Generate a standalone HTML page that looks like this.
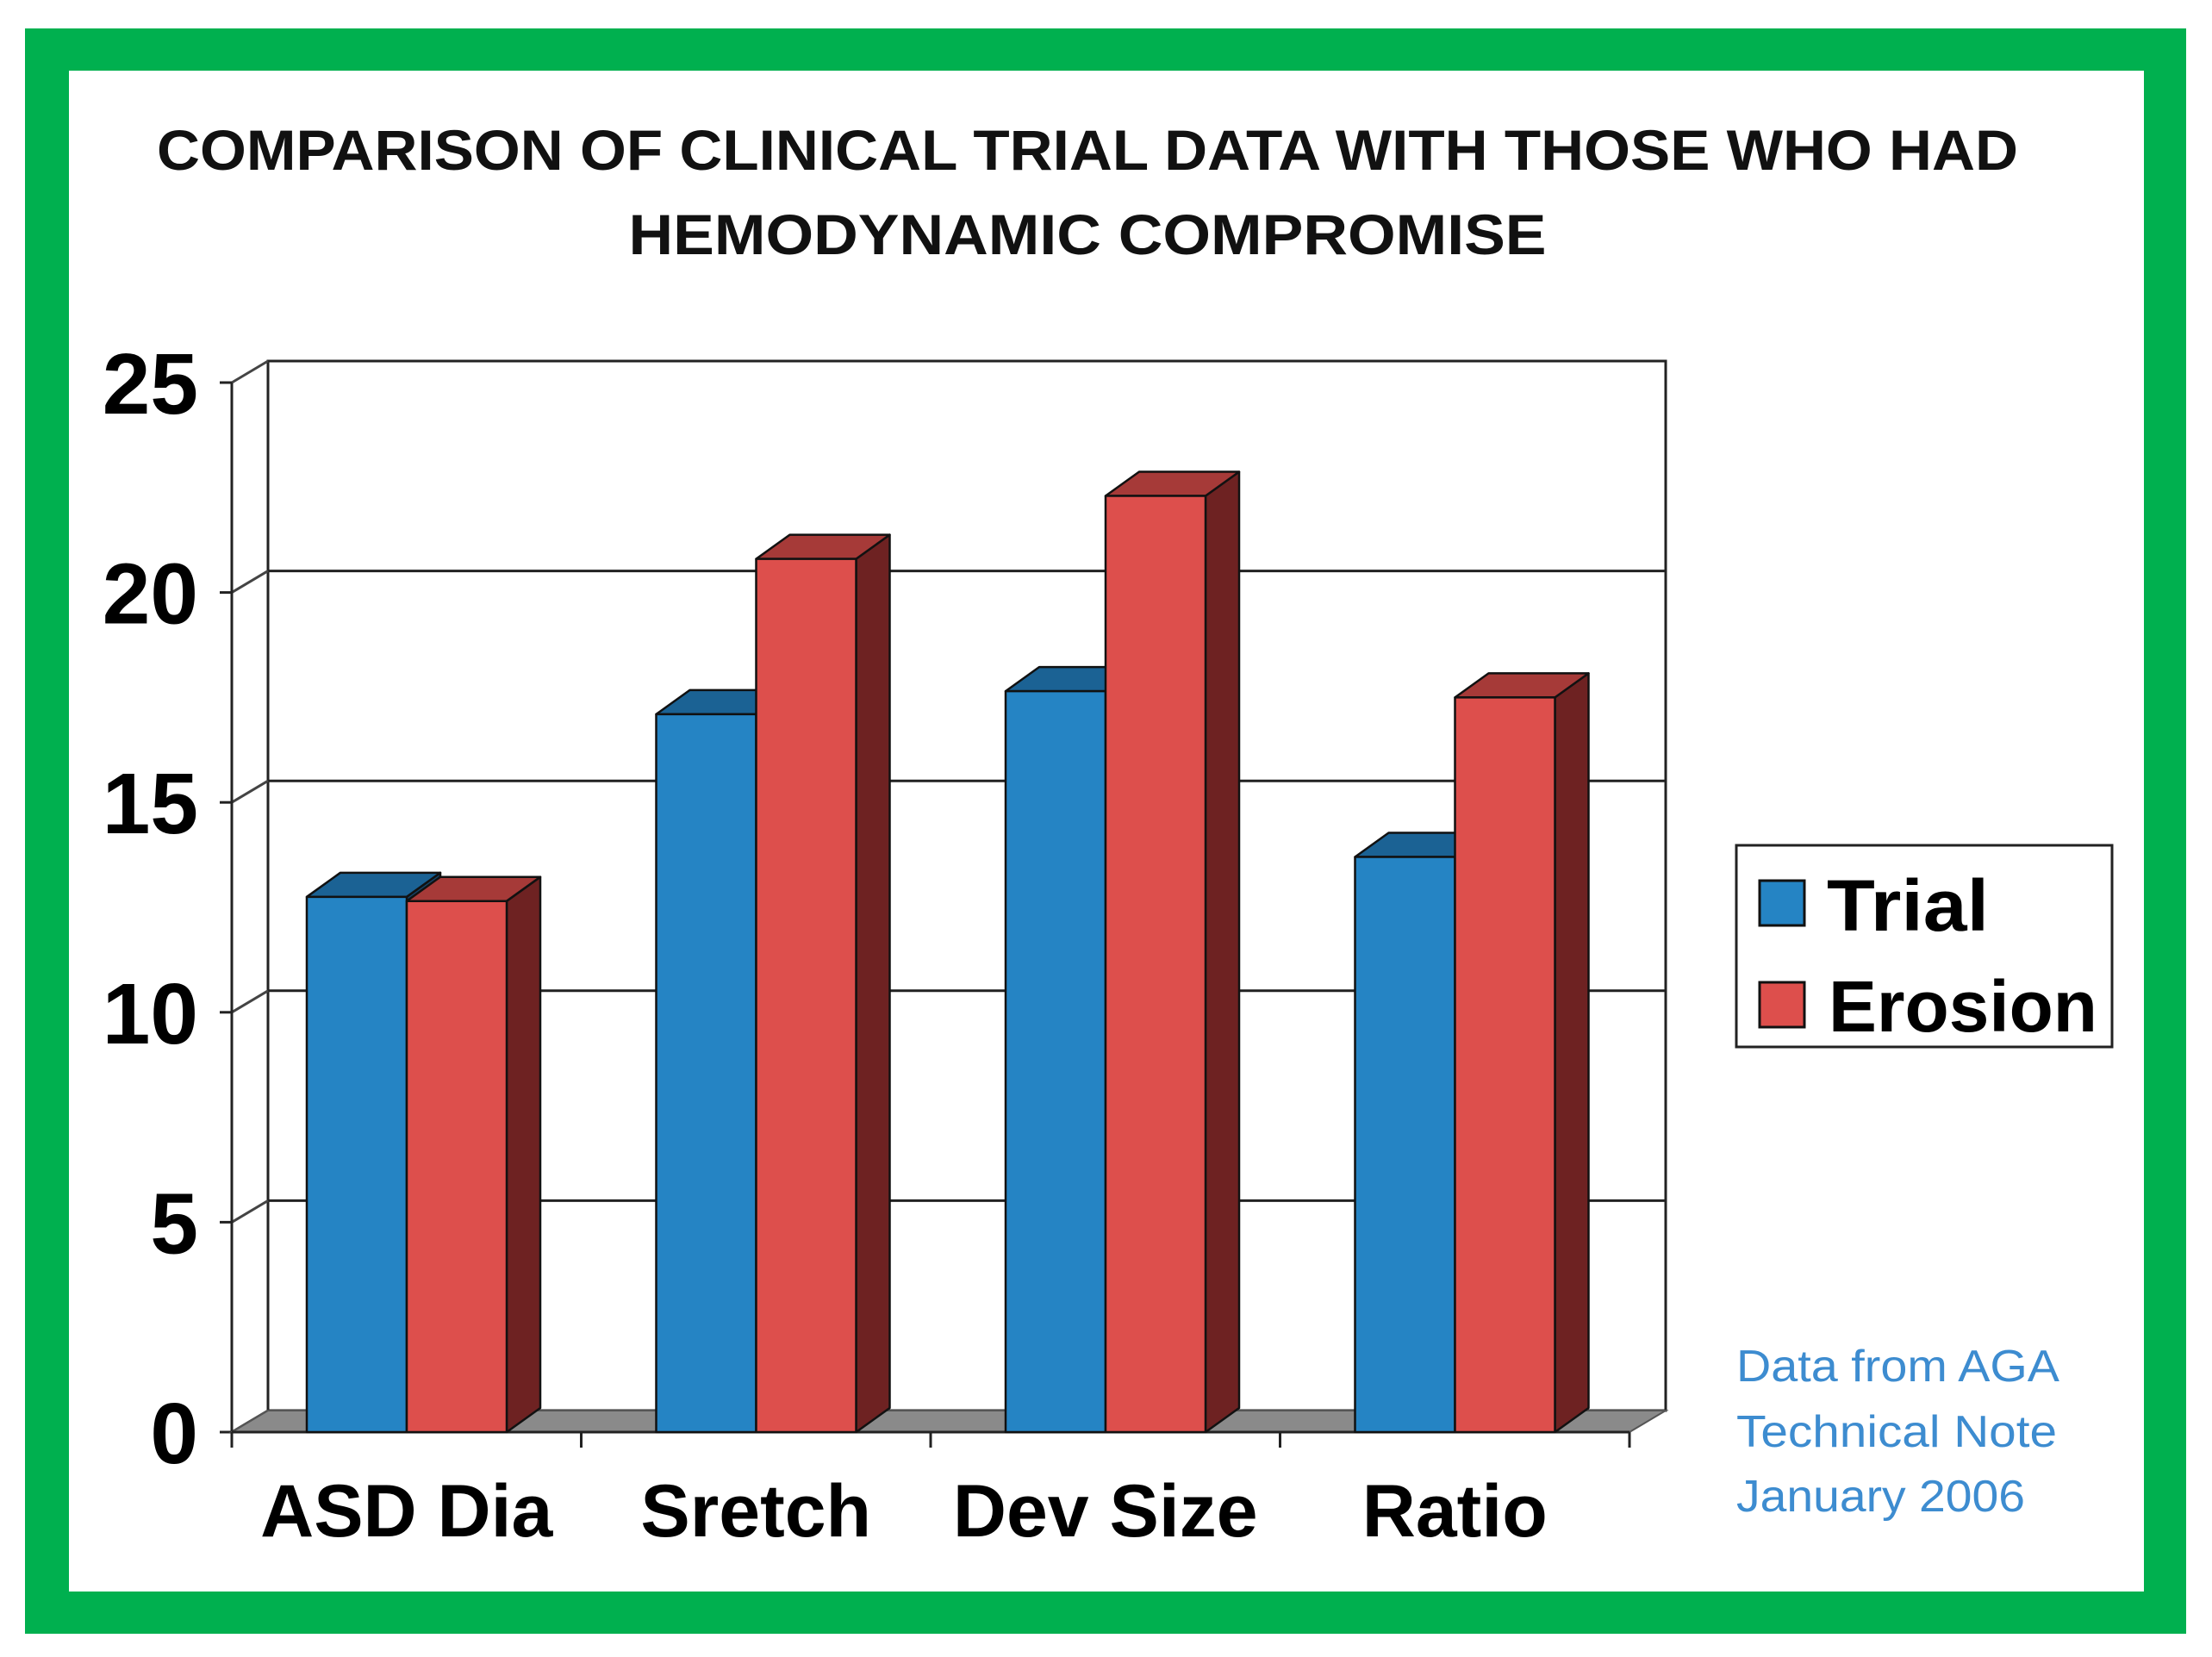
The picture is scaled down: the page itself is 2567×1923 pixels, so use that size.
<!DOCTYPE html>
<html><head><meta charset="utf-8"><style>
html,body{margin:0;padding:0;background:#fff;}
svg{display:block;}
</style></head><body>
<svg id="chart" width="2567" height="1923" viewBox="0 0 2567 1923" xmlns="http://www.w3.org/2000/svg" font-family="'Liberation Sans', sans-serif">
<rect x="29" y="33" width="2508" height="1863" fill="#00b04f"/>
<rect x="80" y="82" width="2408" height="1765" fill="#fff"/>
<text x="1262" y="197" text-anchor="middle" font-size="66" font-weight="bold" fill="#111" textLength="2160" lengthAdjust="spacingAndGlyphs">COMPARISON OF CLINICAL TRIAL DATA WITH THOSE WHO HAD</text>
<text x="1262" y="295" text-anchor="middle" font-size="66" font-weight="bold" fill="#111" textLength="1065" lengthAdjust="spacingAndGlyphs">HEMODYNAMIC COMPROMISE</text>
<g id="plot"></g>
<g>
<rect x="2015" y="981" width="436" height="234" fill="#fff" stroke="#222" stroke-width="3"/>
<rect x="2042" y="1022" width="52" height="52" fill="#2584c4" stroke="#111" stroke-width="3"/>
<text x="2120" y="1080" font-size="84" font-weight="bold" fill="#000" textLength="188" lengthAdjust="spacingAndGlyphs">Trial</text>
<rect x="2042" y="1140" width="52" height="52" fill="#dd4f4c" stroke="#111" stroke-width="3"/>
<text x="2122" y="1197" font-size="84" font-weight="bold" fill="#000" textLength="312" lengthAdjust="spacingAndGlyphs">Erosion</text>
</g>
<g fill="#3d8cd0" font-size="52">
<text x="2015" y="1603" textLength="375" lengthAdjust="spacingAndGlyphs">Data from AGA</text>
<text x="2015" y="1679" textLength="372" lengthAdjust="spacingAndGlyphs">Technical Note</text>
<text x="2015" y="1754" textLength="335" lengthAdjust="spacingAndGlyphs">January 2006</text>
</g>
</svg>
<script>
const categories = ["ASD Dia", "Sretch", "Dev Size", "Ratio"];
const trialValues = [12.75, 17.1, 17.65, 13.7];
const erosionValues = [12.65, 20.8, 22.3, 17.5];
const yTickLabels = [0, 5, 10, 15, 20, 25];

const NS = "http://www.w3.org/2000/svg";
const plot = document.getElementById('plot');
const X0 = 269, X1 = 1891, Y0 = 1662, YTOP = 444, VMAX = 25;
const DX = 42, DY = -25; // wall depth
const BDX = 39, BDY = -28; // bar depth
const yScale = v => Y0 - (Y0 - YTOP) * v / VMAX;
const catW = (X1 - X0) / categories.length;
const xCat = i => X0 + catW * i;
const BW = 116, GAP = 87;

function mk(tag, attrs) {
  const el = document.createElementNS(NS, tag);
  for (const k in attrs) el.setAttribute(k, attrs[k]);
  plot.appendChild(el);
  return el;
}
// back wall
let el = mk('rect', {x: X0 + DX, y: YTOP + DY, width: X1 - X0, height: Y0 - YTOP, fill: '#fff', stroke: '#222', 'stroke-width': 3});


// gridlines & ticks
yTickLabels.forEach(v => {
  const y = yScale(v);
  if (v > 0) {
    const g = mk('line', {x1: X0 + DX, y1: y + DY, x2: X1 + DX, y2: y + DY, stroke: '#222', 'stroke-width': 3});
    
    
  }
  const d = mk('line', {x1: X0, y1: y, x2: X0 + DX, y2: y + DY, stroke: '#444', 'stroke-width': 3});
  
  
  const t = mk('line', {x1: X0 - 14, y1: y, x2: X0, y2: y, stroke: '#222', 'stroke-width': 3});
  
  
  const lb = mk('text', {x: 230, y: y + 36, 'text-anchor': 'end', 'font-size': 100, 'font-weight': 'bold', fill: '#000'});
  lb.textContent = v;
  
  
});
// side wall line
el = mk('line', {x1: X0, y1: YTOP, x2: X0, y2: Y0, stroke: '#222', 'stroke-width': 3});


// floor
el = mk('polygon', {points: `${X0},${Y0} ${X1},${Y0} ${X1 + DX},${Y0 + DY} ${X0 + DX},${Y0 + DY}`, fill: '#8a8a8a', stroke: '#555', 'stroke-width': 2});


el = mk('line', {x1: X0, y1: Y0, x2: X1, y2: Y0, stroke: '#222', 'stroke-width': 3});


for (let i = 0; i <= categories.length; i++) {
  const t = mk('line', {x1: xCat(i), y1: Y0, x2: xCat(i), y2: Y0 + 18, stroke: '#222', 'stroke-width': 3});
  
  
}
function bar(x, v, front, top, side, name) {
  const y = yScale(v);
  const g = document.createElementNS(NS, 'g');
  
  
  plot.appendChild(g);
  const parts = [
    ['polygon', {points: `${x + BW},${y} ${x + BW + BDX},${y + BDY} ${x + BW + BDX},${Y0 + BDY} ${x + BW},${Y0}`, fill: side}],
    ['polygon', {points: `${x},${y} ${x + BDX},${y + BDY} ${x + BW + BDX},${y + BDY} ${x + BW},${y}`, fill: top}],
    ['rect', {x: x, y: y, width: BW, height: Y0 - y, fill: front}]
  ];
  parts.forEach(([tag, a]) => {
    const p = document.createElementNS(NS, tag);
    for (const k in a) p.setAttribute(k, a[k]);
    p.setAttribute('stroke', '#111');
    p.setAttribute('stroke-width', 2.5);
    p.setAttribute('stroke-linejoin', 'round');
    g.appendChild(p);
  });
}
categories.forEach((c, i) => {
  const bx = xCat(i) + GAP;
  bar(bx, trialValues[i], '#2584c4', '#1b6294', '#14476b', 'bar-trial-' + i);
  bar(bx + BW, erosionValues[i], '#dd4f4c', '#a63a38', '#6e2222', 'bar-erosion-' + i);
  const lb = mk('text', {x: xCat(i) + catW / 2, y: 1783, 'text-anchor': 'middle', 'font-size': 86, 'font-weight': 'bold', fill: '#000'});
  lb.textContent = c;
  
  
});
</script>
</body></html>
